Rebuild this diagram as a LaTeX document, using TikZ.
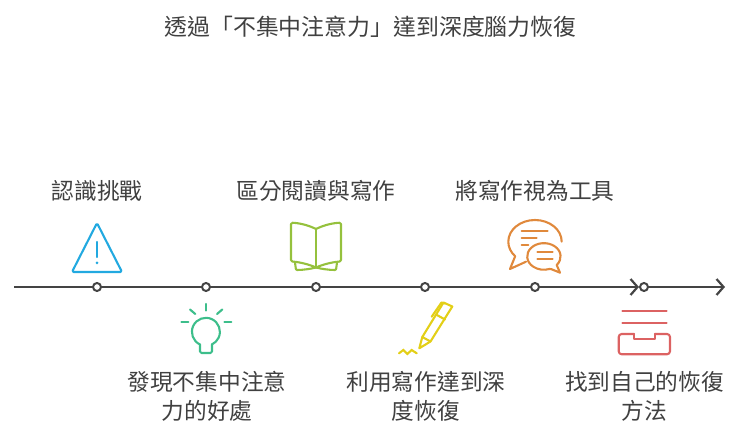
\documentclass[tikz,border=0pt]{standalone}
\usepackage{fontspec}
\setmainfont{Noto Sans CJK TC}
\usetikzlibrary{arrows.meta}
\usepackage{xcolor}
\definecolor{axisgray}{HTML}{444444}
\definecolor{textgray}{HTML}{404040}
\definecolor{warnblue}{HTML}{22A9E0}
\definecolor{bulbgreen}{HTML}{3DBE8B}
\definecolor{bookgreen}{HTML}{95C13D}
\definecolor{pengold}{HTML}{E3CF17}
\definecolor{chatorange}{HTML}{E0893C}
\definecolor{trayred}{HTML}{DC6262}
\tikzset{
  label/.style={text=textgray,align=center,inner sep=0pt,font=\fontsize{22.7}{29}\selectfont},
  tick/.style={circle,draw=axisgray,fill=white,line width=2pt,inner sep=0pt,minimum size=8pt},
  timeline/.style={axisgray,line width=2.2pt},
  icon/.style={line width=2.1pt,line cap=round,line join=round}
}
\begin{document}
\begin{tikzpicture}[x=1pt,y=-1pt]
\useasboundingbox (0,0) rectangle (740,438);

% Title
\node[label,font=\fontsize{22.9}{29}\selectfont] (title) at (370.5,27) {透過「不集中注意力」達到深度腦力恢復};

% Timeline
\coordinate (start) at (14,287);
\coordinate (end) at (725,287);
\node[tick] (dot1) at (97,287) {};
\node[tick] (dot2) at (206,287) {};
\node[tick] (dot3) at (316,287) {};
\node[tick] (dot4) at (425,287) {};
\node[tick] (dot5) at (535,287) {};
\node[tick] (dot6) at (644,287) {};
\draw[timeline,-{Straight Barb[length=7pt,width=16pt]}] (start) -- (dot1) -- (dot2) -- (dot3) -- (dot4) -- (dot5) -- (dot6);
\draw[timeline,-{Straight Barb[length=7pt,width=16pt]}] (dot6) -- (end);

% Upper labels
\node[label] (challenge) at (97,191) {認識挑戰};
\node[label] (reading) at (316,191) {區分閱讀與寫作};
\node[label] (tool) at (535,191) {將寫作視為工具};

% Lower labels
\node[label] (benefit) at (207,396.5) {發現不集中注意\\力的好處};
\node[label] (writing) at (426,396.5) {利用寫作達到深\\度恢復};
\node[label] (method) at (644.5,396.5) {找到自己的恢復\\方法};

% Warning icon
\draw[icon,warnblue,rounded corners=1.5pt] (97,223) -- (122,272) -- (72,272) -- cycle;
\draw[icon,warnblue] (97,242) -- (97,257);
\fill[warnblue] (97,263) circle (1.5pt);

% Bulb icon
\draw[icon,bulbgreen,rounded corners=1.5pt] (212,344.5) -- (212,353) -- (200,353) -- (200,344.5);
\draw[icon,bulbgreen] (200,344.5) arc[start angle=115,end angle=425,radius=14];
\draw[icon,bulbgreen] (206,304) -- (206,310.5);
\draw[icon,bulbgreen] (190,309.5) -- (195.3,314);
\draw[icon,bulbgreen] (222.3,309.5) -- (217,314);
\draw[icon,bulbgreen] (181.5,322) -- (188.3,322);
\draw[icon,bulbgreen] (224.5,322) -- (231.3,322);

% Book icon
\draw[icon,bookgreen,rounded corners=1.5pt] (316,229) .. controls (308,225) and (299,223) .. (291,222.7) -- (291,261.5) .. controls (299,262) and (308,264) .. (316,267.5);
\draw[icon,bookgreen,rounded corners=1.5pt] (316,229) .. controls (324,225) and (333,223) .. (341,222.7) -- (341,261.5) .. controls (333,262) and (324,264) .. (316,267.5);
\draw[icon,bookgreen] (316,229) -- (316,267.5);
\draw[icon,bookgreen,rounded corners=1pt] (295,262.5) -- (296,270) .. controls (303,270) and (310,269) .. (316,267.5);
\draw[icon,bookgreen,rounded corners=1pt] (337,262.5) -- (336,270) .. controls (329,270) and (322,269) .. (316,267.5);

% Pen icon
\draw[icon,pengold] (443.5,302.5) -- (452.3,306.5) -- (430.5,341.5) -- (422.3,337) -- cycle;
\draw[icon,pengold] (422.3,337) -- (419.3,348.3) -- (430.5,341.5);
\draw[icon,pengold] (436,314.5) -- (445,319.5);
\draw[icon,pengold] (431.7,316.7) -- (441.5,302.5) -- (445,303.5);
\draw[icon,pengold,line join=miter] (399,353.3) -- (403.3,350) -- (407.3,354) -- (411.7,350) -- (416.7,353.3);

% Chat icon
\draw[icon,chatorange] (561.7,241.7) arc[start angle=0,end angle=-222,x radius=26.7,y radius=21.7] -- (510,269) -- (526,261.7);
\draw[icon,chatorange] (551.7,269.3) -- (560,272.7) -- (556.7,265) arc[start angle=40,end angle=-290,x radius=16.7,y radius=13.3] -- cycle;
\draw[icon,chatorange] (521.7,231) -- (547.7,231);
\draw[icon,chatorange] (521.7,238) -- (536.7,238);
\draw[icon,chatorange] (521.7,245) -- (528.3,245);
\draw[icon,chatorange] (537.3,252) -- (552.7,252);
\draw[icon,chatorange] (537.3,259) -- (552.7,259);

% Tray icon
\draw[icon,trayred] (622.3,311) -- (666.7,311);
\draw[icon,trayred] (622.3,323) -- (666.7,323);
\draw[icon,trayred,rounded corners=3pt] (634,334) -- (618.7,334) -- (618.7,354.3) -- (670,354.3) -- (670,334) -- (655,334);
\draw[icon,trayred] (634,334) -- (634,338.7) -- (655,338.7) -- (655,334);
\end{tikzpicture}
\end{document}
